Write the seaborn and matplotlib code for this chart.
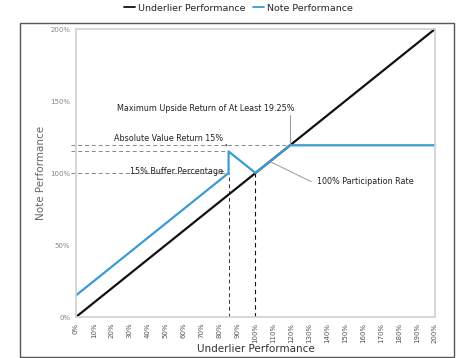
import matplotlib
matplotlib.use("Agg")
import matplotlib.pyplot as plt
import seaborn as sns
import pandas as pd
from matplotlib.patches import Rectangle
from matplotlib.lines import Line2D

sns.set_theme(style="white")
plt.rcParams['font.family'] = ['DejaVu Sans']

underlier_x = [0, 200]
underlier_y = [0, 200]
note_x = [0, 85, 85, 100, 119.25, 200]
note_y = [15, 100, 115, 100, 119.25, 119.25]
x_ticks = list(range(0, 201, 10))
y_ticks = [0, 50, 100, 150, 200]
cap = 119.25
buffer_level = 85
abs_return = 115

blue = "#3a9bd5"

fig = plt.figure(figsize=(4.77, 3.58), dpi=100)
fig.patches.append(Rectangle((20/477, 1/358), 434/477, 334/358, transform=fig.transFigure,
                             fill=False, edgecolor="#555555", linewidth=1.0))
ax = fig.add_axes([76/477, 41/358, 359/477, 288/358])

df_u = pd.DataFrame({"x": underlier_x, "y": underlier_y})
df_n = pd.DataFrame({"x": note_x, "y": note_y})
sns.lineplot(data=df_u, x="x", y="y", ax=ax, color="#111111", linewidth=1.6, sort=False, estimator=None)
sns.lineplot(data=df_n, x="x", y="y", ax=ax, color=blue, linewidth=1.6, sort=False, estimator=None)

dash = dict(color="#888888", linewidth=0.7, linestyle=(0, (4, 3)))
ax.plot([-3, cap], [cap, cap], clip_on=False, zorder=1, **dash)
ax.plot([-3, buffer_level], [abs_return, abs_return], clip_on=False, zorder=1, **dash)
ax.plot([-3, buffer_level], [100, 100], clip_on=False, zorder=1, **dash)
ax.plot([buffer_level, buffer_level], [0, 100], color="#333333", linewidth=0.7, linestyle=(0, (4, 3)), zorder=1)
ax.plot([100, 100], [0, 100], color="#111111", linewidth=0.8, linestyle=(0, (4, 3)), zorder=1)

ax.set_xlim(0, 200)
ax.set_ylim(0, 200)
ax.set_xticks(x_ticks)
ax.set_xticklabels([f"{t}%" for t in x_ticks], rotation=90, fontsize=5, color="#555555")
ax.set_yticks(y_ticks)
ax.set_yticklabels([f"{t}%" for t in y_ticks], fontsize=5, color="#888888")
ax.tick_params(axis="both", length=2, width=0.5, color="#aaaaaa", pad=2)
for s in ax.spines.values():
    s.set_color("#d0d0d0")
    s.set_linewidth(1.2)
ax.set_xlabel("Underlier Performance", fontsize=7.5, color="#333333", labelpad=1)
ax.set_ylabel("Note Performance", fontsize=7.5, color="#666666", labelpad=3)

fs = 5.8
tc = "#222222"
ax.text(23, 145, "Maximum Upside Return of At Least 19.25%", fontsize=fs, color=tc, va="center")
ax.plot([119, 119], [140, cap], color="#999999", linewidth=0.7)
ax.text(21, 124, "Absolute Value Return 15%", fontsize=fs, color=tc, va="center")
ax.annotate("", xy=(buffer_level, abs_return + 1.5), xytext=(83, 121),
            arrowprops=dict(arrowstyle="-|>", color="#666666", lw=0.5, mutation_scale=3))
ax.text(30, 101, "15% Buffer Percentage", fontsize=fs, color=tc, va="center")
ax.annotate("", xy=(84, 101), xytext=(80, 101),
            arrowprops=dict(arrowstyle="-|>", color="#444444", lw=0.5, mutation_scale=3))
ax.text(134, 94, "100% Participation Rate", fontsize=fs, color=tc, va="center")
ax.plot([108, 131], [108, 94], color="#999999", linewidth=0.7)

handles = [Line2D([0], [0], color="#111111", lw=1.3), Line2D([0], [0], color=blue, lw=1.3)]
fig.legend(handles, ["Underlier Performance", "Note Performance"], loc="center",
           bbox_to_anchor=(0.5, 0.977), ncol=2, frameon=False, fontsize=6.8,
           handlelength=1.2, handletextpad=0.3, columnspacing=0.8)

fig.savefig("out.png", dpi=100)
